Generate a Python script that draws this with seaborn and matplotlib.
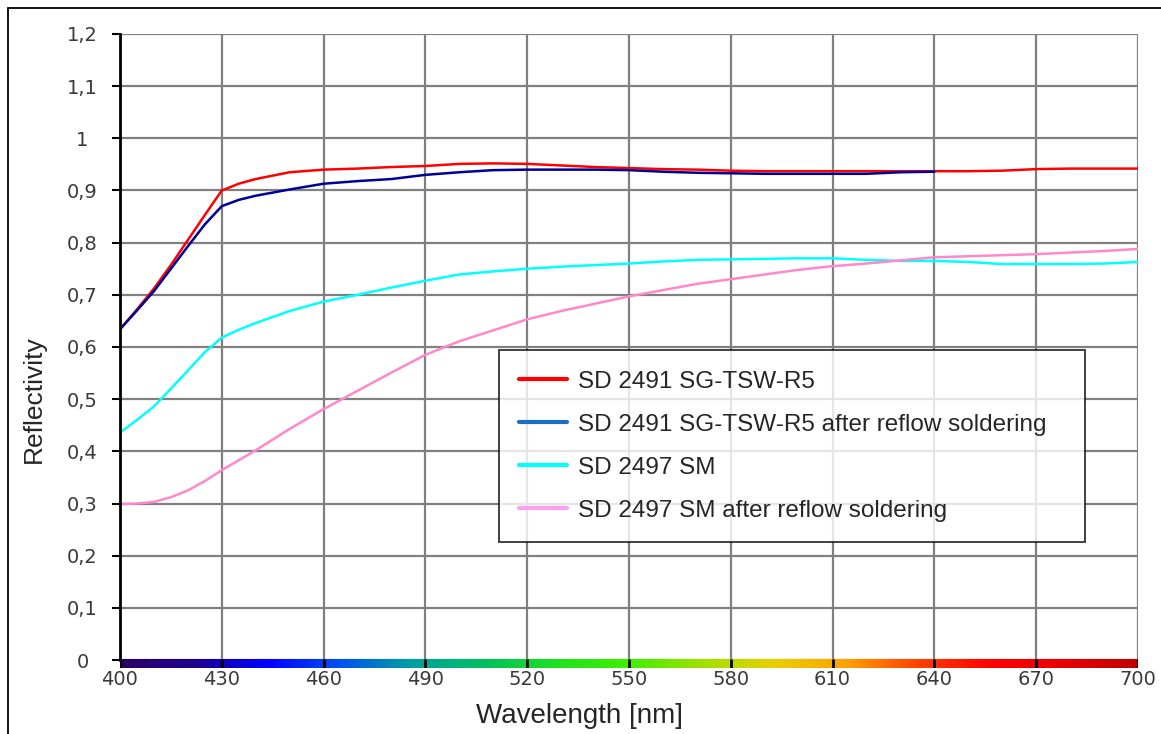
import numpy as np
import pandas as pd
import matplotlib
matplotlib.use('Agg')
import matplotlib.pyplot as plt
from matplotlib.colors import LinearSegmentedColormap
from matplotlib.lines import Line2D
import seaborn as sns

# data
wl = [400, 405, 410, 415, 420, 425, 430, 435, 440, 450, 460, 470, 480, 490, 500,
      510, 520, 530, 540, 550, 560, 570, 580, 590, 600, 610, 620, 630, 640,
      650, 660, 670, 680, 690, 700]

red = [0.634, 0.672, 0.712, 0.757, 0.805, 0.853, 0.900, 0.913, 0.922, 0.935, 0.940,
       0.942, 0.945, 0.947, 0.951, 0.952, 0.951, 0.948, 0.945, 0.943, 0.941, 0.940,
       0.938, 0.937, 0.937, 0.937, 0.937, 0.937, 0.937, 0.937, 0.938, 0.941, 0.942,
       0.942, 0.942]

# blue series stops at 640 nm
blue = [0.634, 0.670, 0.707, 0.750, 0.793, 0.835, 0.870, 0.882, 0.890, 0.902, 0.913,
        0.918, 0.922, 0.930, 0.935, 0.939, 0.940, 0.940, 0.940, 0.939, 0.936, 0.934,
        0.933, 0.932, 0.932, 0.932, 0.932, 0.935, 0.936]

cyan = [0.436, 0.460, 0.486, 0.520, 0.555, 0.590, 0.618, 0.633, 0.646, 0.669, 0.687,
        0.700, 0.714, 0.727, 0.739, 0.745, 0.750, 0.754, 0.757, 0.760, 0.764, 0.767,
        0.768, 0.769, 0.770, 0.770, 0.767, 0.765, 0.765, 0.763, 0.759, 0.759, 0.759,
        0.760, 0.763]

pink = [0.299, 0.300, 0.303, 0.312, 0.325, 0.343, 0.364, 0.383, 0.402, 0.443, 0.481,
        0.516, 0.551, 0.585, 0.611, 0.632, 0.653, 0.669, 0.683, 0.697, 0.709, 0.721,
        0.730, 0.739, 0.748, 0.755, 0.760, 0.766, 0.772, 0.774, 0.776, 0.778, 0.781,
        0.784, 0.788]

labels = ['SD 2491 SG-TSW-R5', 'SD 2491 SG-TSW-R5 after reflow soldering',
          'SD 2497 SM', 'SD 2497 SM after reflow soldering']
line_colors = ['#ff0000', '#000099', '#00ffff', '#ff88cc']
legend_colors = ['#ff0000', '#1a6ec4', '#00ffff', '#ffa0ee']

x_ticks = [400, 430, 460, 490, 520, 550, 580, 610, 640, 670, 700]
y_ticks = [0, 0.1, 0.2, 0.3, 0.4, 0.5, 0.6, 0.7, 0.8, 0.9, 1.0, 1.1, 1.2]
y_ticklabels = ['0', '0,1', '0,2', '0,3', '0,4', '0,5', '0,6', '0,7', '0,8', '0,9',
                '1', '1,1', '1,2']

spectrum = ['#2a0066', '#1e0090', '#0000ff', '#0050f0', '#00a0a0', '#00c060',
            '#20e020', '#40f000', '#a0e000', '#e8d000', '#ffa000', '#ff4000',
            '#ff0000', '#e80000', '#c00000']

sns.set_style('white')
plt.rcParams['font.family'] = ['Liberation Sans', 'DejaVu Sans']

fig = plt.figure(figsize=(11.61, 7.34), dpi=100)
ax = fig.add_axes([120 / 1161, 1 - 660 / 734, 1018 / 1161, 626 / 734])

series = [red, blue, cyan, pink]
for vals, col in zip(series, line_colors):
    df = pd.DataFrame({'wl': wl[:len(vals)], 'r': vals})
    sns.lineplot(data=df, x='wl', y='r', color=col, lw=1.8, ax=ax, zorder=3)

ax.set_xlim(400, 700)
ax.set_ylim(0, 1.2)
ax.set_xticks(x_ticks)
ax.set_yticks(y_ticks)
ax.set_yticklabels(y_ticklabels, ha='center')
for lab in ax.get_xticklabels() + ax.get_yticklabels():
    lab.set_family('DejaVu Sans')
ax.grid(True, color='#808080', lw=1.6)
ax.set_axisbelow(True)
for s in ['top', 'right', 'bottom']:
    ax.spines[s].set_visible(False)
ax.spines['left'].set_color('black')
ax.spines['left'].set_linewidth(2)
ax.spines['left'].set_zorder(5)
ax.tick_params(axis='y', length=6, width=1.5, color='black', labelsize=14,
               labelcolor='#3a3a3a', pad=21, left=True)
ax.tick_params(axis='x', length=0, labelsize=14, labelcolor='#3a3a3a', pad=7)
ax.set_xlabel('')
ax.set_ylabel('')

fig.text(580 / 1161, 1 - 723 / 734, 'Wavelength [nm]', fontsize=20,
         ha='center', va='baseline')
fig.text(34 / 1161, 1 - 399 / 734, 'Reflectivity', fontsize=19, rotation=90,
         ha='center', va='center')

# spectrum bar along the bottom
cax = fig.add_axes([120 / 1161, 1 - 668 / 734, 1018 / 1161, 9 / 734])
cmap = LinearSegmentedColormap.from_list('spec', spectrum)
cax.imshow(np.linspace(0, 1, 512)[None, :], aspect='auto', cmap=cmap,
           extent=[400, 700, 0, 1])
cax.set_xlim(400, 700)
cax.axis('off')
for t in x_ticks:
    cax.plot([t, t], [0, 1], color='black', lw=2, solid_capstyle='butt')

handles = [Line2D([], [], color=c, lw=3) for c in legend_colors]
leg = ax.legend(handles, labels, loc='upper left', mode='expand',
                bbox_to_anchor=(0.372, 0.192, 0.576, 0.303), fontsize=17.5,
                frameon=True, fancybox=False, edgecolor='black',
                handlelength=1.95, handletextpad=0.45, labelspacing=0.86,
                borderpad=0.85, borderaxespad=0)
leg.get_frame().set_linewidth(1.3)
leg.set_zorder(6)

# outer frame
fig.add_artist(Line2D([7.5 / 1161, 7.5 / 1161], [0, 1 - 7.5 / 734], color='black', lw=1.3))
fig.add_artist(Line2D([7.5 / 1161, 1], [1 - 7.5 / 734, 1 - 7.5 / 734], color='black', lw=1.3))

fig.savefig('out.png', dpi=100)
